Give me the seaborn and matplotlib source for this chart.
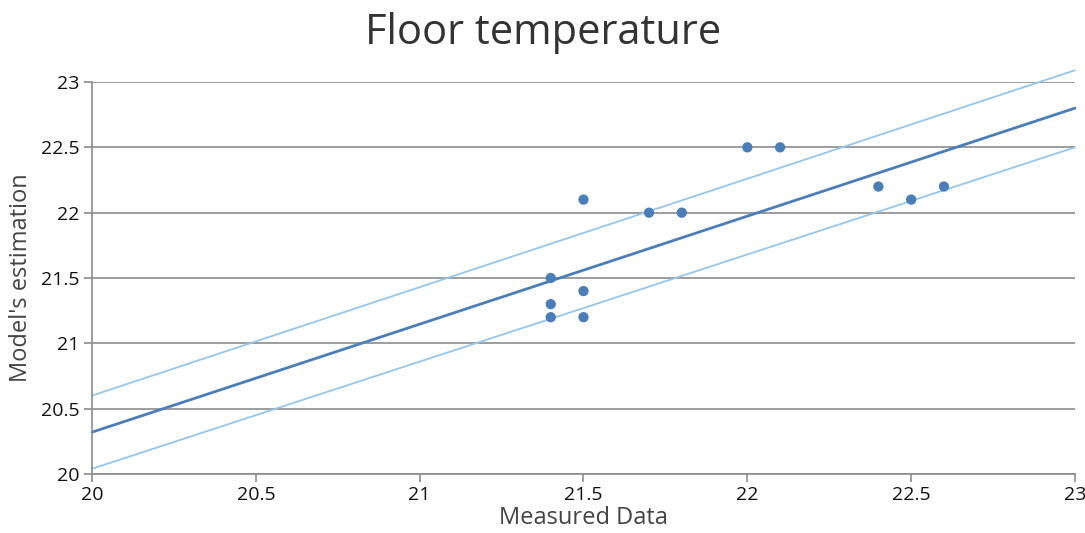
import matplotlib
matplotlib.use("Agg")
import matplotlib.pyplot as plt
import seaborn as sns
import pandas as pd

# Measured vs. estimated floor temperatures
measured = [21.4, 21.4, 21.4, 21.5, 21.5, 21.5, 21.7, 21.8, 22.0, 22.1, 22.4, 22.5, 22.6]
estimated = [21.5, 21.3, 21.2, 22.1, 21.4, 21.2, 22.0, 22.0, 22.5, 22.5, 22.2, 22.1, 22.2]

# Fit line and its band, given by end points at x = 20 and x = 23
line_x = [20, 23]
fit_y = [20.32, 22.80]
upper_y = [20.60, 23.09]
lower_y = [20.04, 22.50]

x_ticks = [20, 20.5, 21, 21.5, 22, 22.5, 23]
y_ticks = [20, 20.5, 21, 21.5, 22, 22.5, 23]

sns.set_theme(style="white")
plt.rcParams["font.family"] = ["Open Sans", "DejaVu Sans"]

df = pd.DataFrame({"measured": measured, "estimated": estimated})
lines = pd.DataFrame({"x": line_x, "fit": fit_y, "upper": upper_y, "lower": lower_y})

fig = plt.figure(figsize=(10.85, 5.33), dpi=100)
ax = fig.add_axes([92 / 1085, 1 - 474 / 533, (1075 - 92) / 1085, (474 - 82) / 533])

band_color = "#94c6ee"
main_color = "#4a7ebb"

for col in ["upper", "lower"]:
    sns.lineplot(data=lines, x="x", y=col, ax=ax, color=band_color, linewidth=1.3)
sns.lineplot(data=lines, x="x", y="fit", ax=ax, color=main_color, linewidth=2)
for ln in ax.lines:
    ln.set_clip_on(False)

sns.scatterplot(data=df, x="measured", y="estimated", ax=ax, color=main_color,
                s=55, edgecolor="none", zorder=5)

ax.set_xlim(20, 23)
ax.set_ylim(20, 23)
ax.set_xticks(x_ticks)
ax.set_xticklabels([f"{v:g}" for v in x_ticks])
ax.set_yticks(y_ticks)
ax.set_yticklabels([f"{v:g}" for v in y_ticks])
ax.yaxis.grid(True, color="#8c8c8c", linewidth=1.2)
ax.xaxis.grid(False)
ax.set_axisbelow(True)

for side in ["top", "right"]:
    ax.spines[side].set_visible(False)
for side in ["left", "bottom"]:
    ax.spines[side].set_color("#8c8c8c")
    ax.spines[side].set_linewidth(1.2)

ax.tick_params(axis="both", which="both", direction="out", length=6, width=1.2,
               color="#8c8c8c", labelsize=14, labelcolor="#111111",
               bottom=True, left=True, pad=3)

ax.set_xlabel("Measured Data", fontsize=17, color="#444444", labelpad=1)
ax.set_ylabel("Model's estimation", fontsize=17, color="#444444", labelpad=6)
fig.text(543 / 1085, 1 - 33 / 533, "Floor temperature", ha="center", va="center",
         fontsize=30, color="#333333")

fig.savefig("out.png", dpi=100)
